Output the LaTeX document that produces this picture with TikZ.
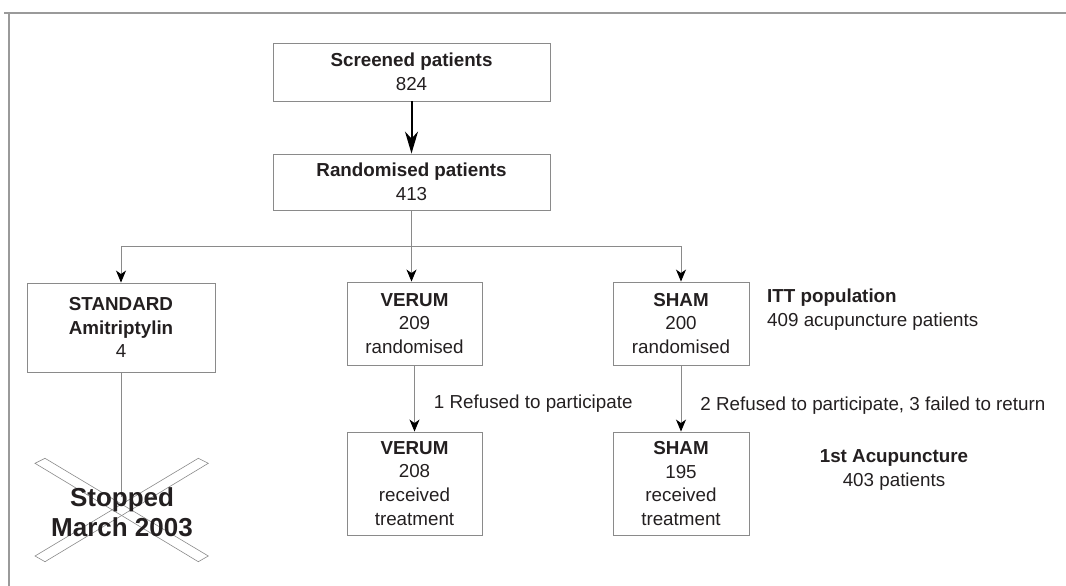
\documentclass[tikz,border=0pt]{standalone}
\usepackage{fontspec}
\setmainfont{Liberation Sans}
\usetikzlibrary{arrows.meta}

\definecolor{linegray}{HTML}{8A8A8A}
\definecolor{framegray}{HTML}{9A9A9A}
\definecolor{inkblack}{HTML}{231F20}

\tikzset{
  box/.style={draw=linegray, line width=0.9pt, align=center, inner sep=0pt,
    text=inkblack, font=\fontsize{18.8}{23.8}\selectfont},
  note/.style={inner sep=0pt, text=inkblack, font=\fontsize{18.8}{23.8}\selectfont},
  link/.style={draw=linegray, line width=0.9pt,
    -{Stealth[length=12pt,width=10pt,inset=3.5pt,color=black]}},
  mainlink/.style={draw=black, line width=2pt,
    -{Stealth[length=22pt,width=13pt,inset=7pt]}},
  crossbar/.style={draw=linegray, line width=0.6pt},
}

\begin{document}
\begin{tikzpicture}[x=1pt, y=-1pt]

\useasboundingbox (0,0) rectangle (1066,586);

% frame, top and left edge only
\draw[framegray, line width=1.4pt] (4,13) -- (1066,13);
\draw[framegray, line width=1.4pt] (9,13) -- (9,586);

% boxes
\node[box, minimum width=277, minimum height=58] (screened) at (411.5,72)
  {\textbf{Screened patients}\\824};
\node[box, minimum width=277, minimum height=56] (rand) at (411.5,182)
  {\textbf{Randomised patients}\\413};
\node[box, minimum width=188, minimum height=89] (standard) at (121,327.5)
  {\textbf{STANDARD}\\\textbf{Amitriptylin}\\4};
\node[box, minimum width=135, minimum height=83] (verum) at (414.5,323.5)
  {\textbf{VERUM}\\209\\randomised};
\node[box, minimum width=136, minimum height=83] (sham) at (681,323.5)
  {\textbf{SHAM}\\200\\randomised};
\node[box, minimum width=135, minimum height=103] (verumtr) at (414.5,483.5)
  {\textbf{VERUM}\\208\\received\\treatment};
\node[box, minimum width=136, minimum height=103] (shamtr) at (681,483.5)
  {\textbf{SHAM}\\195\\received\\treatment};

% side notes
\node[note, anchor=west, align=left] (itt) at (767,310)
  {\textbf{ITT population}\\409 acupuncture patients};
\node[note, align=center] (first) at (894,470)
  {\textbf{1st Acupuncture}\\403 patients};

% connectors
\draw[mainlink] (screened) -- (rand);
\coordinate (split) at (412,246);
\draw[link] (rand.south) -- (rand.south |- verum.north);
\foreach \n in {standard, sham} {
    \draw[link] (split) -| (\n.north);
}
\draw[link] (verum) -- node[note, anchor=west, pos=0.58, xshift=19pt] (dropverum) {1 Refused to participate} (verumtr);
\draw[link] (sham) -- node[note, anchor=west, pos=0.61, xshift=19pt] (dropsham) {2 Refused to participate, 3 failed to return} (shamtr);

% stopped arm
\coordinate (stopend) at (121,497);
\draw[draw=linegray, line width=0.9pt] (standard) -- (stopend);
\draw[crossbar] (35,463.3) -- (45,458.3) -- (208.3,556) -- (198.3,561.7) -- cycle;
\draw[crossbar] (35,556) -- (45,561.7) -- (208.3,463.3) -- (198.3,458.3) -- cycle;
\node[note, align=center, font=\bfseries\fontsize{26}{30}\selectfont] (stopped) at (122,512)
  {Stopped\\March 2003};

\end{tikzpicture}
\end{document}
